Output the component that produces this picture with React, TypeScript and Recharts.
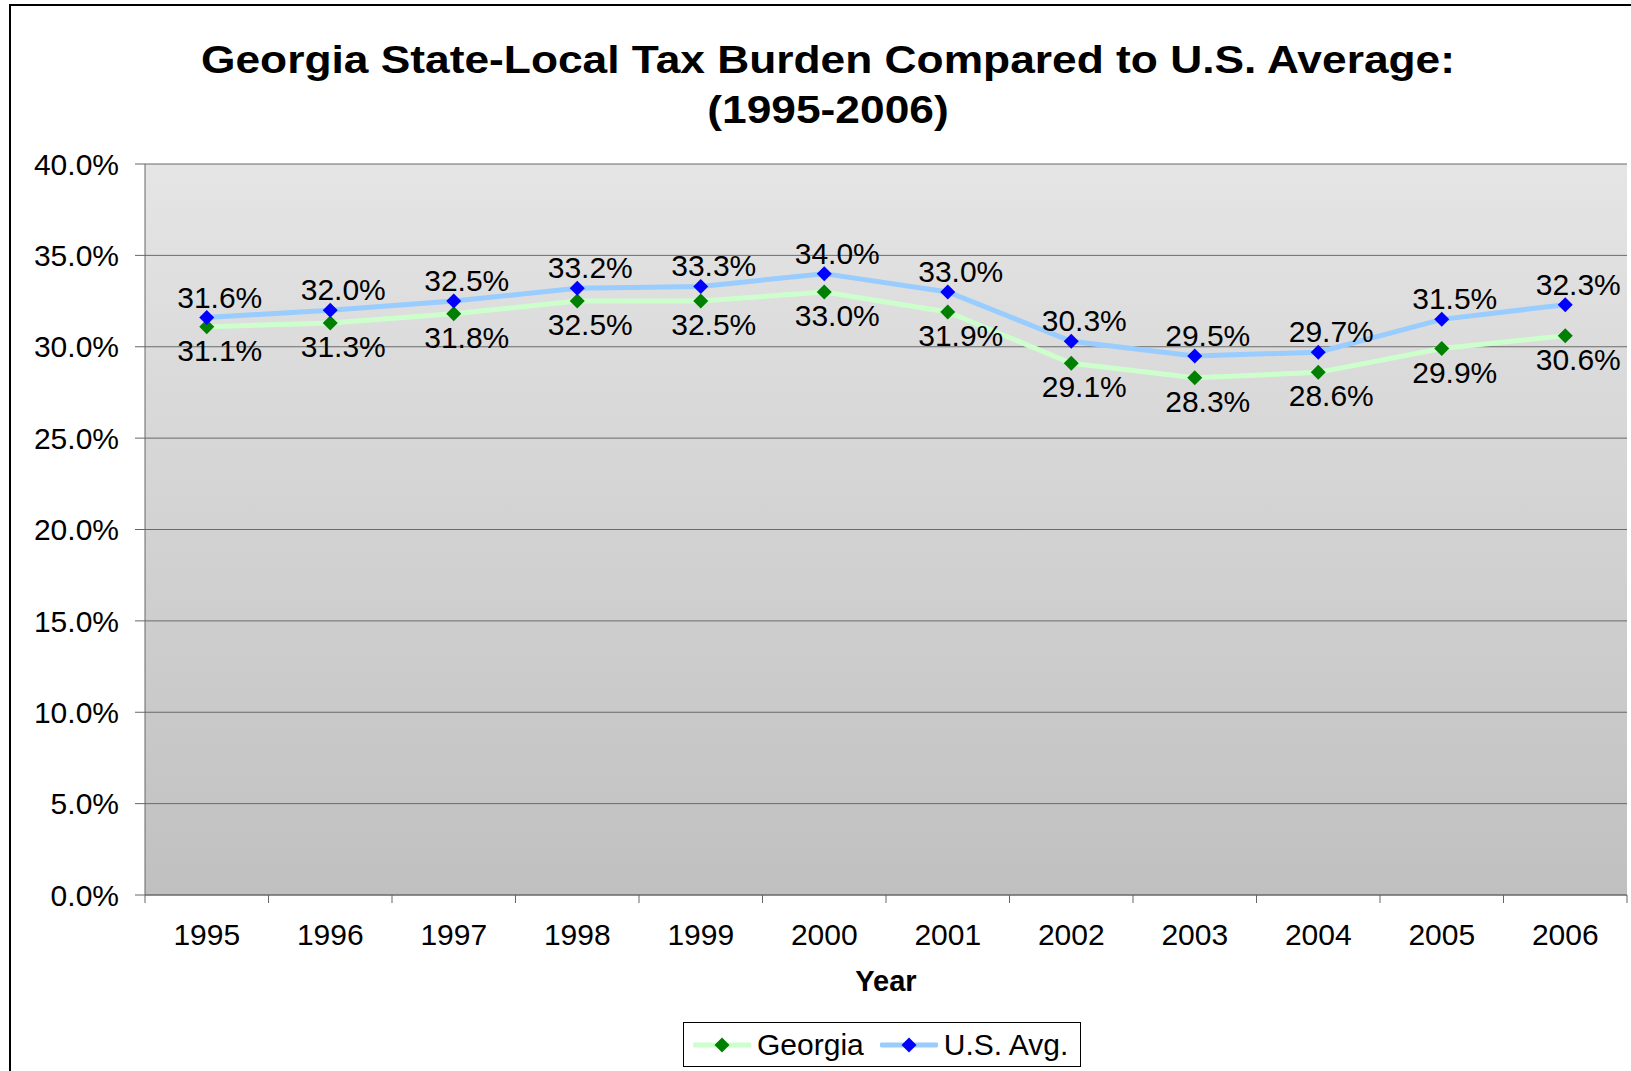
import {
  LineChart,
  Line,
  XAxis,
  YAxis,
  CartesianGrid,
  LabelList,
  Legend,
} from "recharts";

const years = ["1995", "1996", "1997", "1998", "1999", "2000", "2001", "2002", "2003", "2004", "2005", "2006"];
const georgia = [31.1, 31.3, 31.8, 32.5, 32.5, 33.0, 31.9, 29.1, 28.3, 28.6, 29.9, 30.6];
const usAvg = [31.6, 32.0, 32.5, 33.2, 33.3, 34.0, 33.0, 30.3, 29.5, 29.7, 31.5, 32.3];
const yTicks = [0, 5, 10, 15, 20, 25, 30, 35, 40];

const data = years.map((year, i) => ({ year, georgia: georgia[i], us: usAvg[i] }));

const W = 1631;
const H = 1071;
const FONT = '"Liberation Sans", Arial, Helvetica, sans-serif';
const PLOT_LEFT = 145;
const PLOT_RIGHT = 1627;
const PLOT_BOTTOM = 895;
const BAND = (PLOT_RIGHT - PLOT_LEFT) / years.length;
const TEXT_SIZE = 30;

const GREEN_LINE = "#ccffcc";
const GREEN_DOT = "#008000";
const BLUE_LINE = "#99ccff";
const BLUE_DOT = "#0000ff";

const diamond = (color: string, r = 7.5) => (props: any) => {
  const { cx, cy, index } = props;
  if (cx == null || cy == null) return <g key={index} />;
  return (
    <path
      key={index}
      d={`M${cx},${cy - r}L${cx + r},${cy}L${cx},${cy + r}L${cx - r},${cy}Z`}
      fill={color}
    />
  );
};

// labels sit a bit right of the marker, like the original
const valueLabel = (dy: number) => (props: any) => {
  const { x, y, value, index } = props;
  return (
    <text
      key={index}
      x={x + 13}
      y={y + dy}
      textAnchor="middle"
      fontSize={TEXT_SIZE}
      fontFamily={FONT}
      fill="#000"
    >
      {Number(value).toFixed(1)}%
    </text>
  );
};

const XTick = (props: any) => {
  const { x, payload, index } = props;
  const left = x - BAND / 2;
  return (
    <g>
      <line x1={left} x2={left} y1={PLOT_BOTTOM} y2={PLOT_BOTTOM + 8} stroke="#666" />
      {index === years.length - 1 && (
        <line x1={x + BAND / 2} x2={x + BAND / 2} y1={PLOT_BOTTOM} y2={PLOT_BOTTOM + 8} stroke="#666" />
      )}
      <text x={x} y={PLOT_BOTTOM + 50} textAnchor="middle" fontSize={TEXT_SIZE} fontFamily={FONT} fill="#000">
        {payload.value}
      </text>
      {index === 0 && (
        <text
          x={(PLOT_LEFT + PLOT_RIGHT) / 2}
          y={PLOT_BOTTOM + 96}
          textAnchor="middle"
          fontSize={29}
          fontWeight="bold"
          fontFamily={FONT}
          fill="#000"
        >
          Year
        </text>
      )}
    </g>
  );
};

const LegendSwatch = ({ line, dot }: { line: string; dot: string }) => (
  <svg width={58} height={20} style={{ display: "block" }}>
    <line x1={2} x2={56} y1={10} y2={10} stroke={line} strokeWidth={5} strokeLinecap="round" />
    <path d="M29,2.5L36.5,10L29,17.5L21.5,10Z" fill={dot} />
  </svg>
);

const LegendBox = () => (
  <div style={{ height: 49, position: "relative" }}>
    <div
      style={{
        position: "absolute",
        left: 683,
        top: 0,
        width: 398,
        height: 45,
        border: "1px solid #000",
        background: "#fff",
        display: "flex",
        alignItems: "center",
        fontFamily: FONT,
        fontSize: 30,
        color: "#000",
        boxSizing: "border-box",
        paddingLeft: 9,
        whiteSpace: "nowrap",
      }}
    >
      <LegendSwatch line={GREEN_LINE} dot={GREEN_DOT} />
      <span style={{ marginLeft: 6, marginRight: 16 }}>Georgia</span>
      <LegendSwatch line={BLUE_LINE} dot={BLUE_DOT} />
      <span style={{ marginLeft: 6 }}>U.S. Avg.</span>
    </div>
  </div>
);

export default function App() {
  return (
    <div
      style={{
        position: "fixed",
        left: 0,
        top: 0,
        width: W,
        height: H,
        overflow: "hidden",
        background: "#fff",
      }}
    >
      <div
        style={{
          position: "absolute",
          left: 9,
          top: 4,
          width: 1700,
          height: 1200,
          border: "2px solid #000",
        }}
      />
      <div
        style={{
          position: "absolute",
          left: 0,
          top: 35,
          width: 1656,
          textAlign: "center",
          fontFamily: FONT,
          fontWeight: "bold",
          fontSize: 38,
          lineHeight: "50px",
          color: "#000",
          transform: "scaleX(1.166)",
          transformOrigin: "828px 0",
        }}
      >
        Georgia State-Local Tax Burden Compared to U.S. Average:
        <br />
        (1995-2006)
      </div>
      <div style={{ position: "absolute", left: 0, top: 0 }}>
        <LineChart width={W} height={H} data={data} margin={{ top: 164, right: 4, bottom: 0, left: 0 }}>
          <defs>
            <linearGradient id="plotBg" x1="0" y1="0" x2="0" y2="1">
              <stop offset="0%" stopColor="#e5e5e5" />
              <stop offset="100%" stopColor="#c0c0c0" />
            </linearGradient>
          </defs>
          <CartesianGrid vertical={false} stroke="#6a6a6a" fill="url(#plotBg)" fillOpacity={1} />
          <XAxis
            dataKey="year"
            type="category"
            height={127}
            padding={{ left: BAND / 2, right: BAND / 2 }}
            axisLine={{ stroke: "#666" }}
            tickLine={false}
            tick={<XTick />}
            interval={0}
          />
          <XAxis
            xAxisId="top"
            dataKey="year"
            orientation="top"
            height={0}
            tick={false}
            tickLine={false}
            axisLine={{ stroke: "#c8c8c8" }}
          />
          <YAxis
            domain={[0, 40]}
            ticks={yTicks}
            width={145}
            tickSize={10}
            tickMargin={16}
            axisLine={{ stroke: "#666" }}
            tickLine={{ stroke: "#666" }}
            tickFormatter={(v: number) => `${v.toFixed(1)}%`}
            tick={{ fontSize: TEXT_SIZE, fill: "#000", fontFamily: FONT }}
          />
          <YAxis
            yAxisId="right"
            orientation="right"
            width={0}
            tick={false}
            tickLine={false}
            axisLine={{ stroke: "#c8c8c8" }}
          />
          <Legend verticalAlign="bottom" content={<LegendBox />} />
          <Line
            type="linear"
            dataKey="georgia"
            name="Georgia"
            stroke={GREEN_LINE}
            strokeWidth={5}
            dot={diamond(GREEN_DOT)}
            activeDot={false}
            isAnimationActive={false}
          >
            <LabelList dataKey="georgia" content={valueLabel(34)} />
          </Line>
          <Line
            type="linear"
            dataKey="us"
            name="U.S. Avg."
            stroke={BLUE_LINE}
            strokeWidth={5}
            dot={diamond(BLUE_DOT)}
            activeDot={false}
            isAnimationActive={false}
          >
            <LabelList dataKey="us" content={valueLabel(-10)} />
          </Line>
        </LineChart>
      </div>
    </div>
  );
}
